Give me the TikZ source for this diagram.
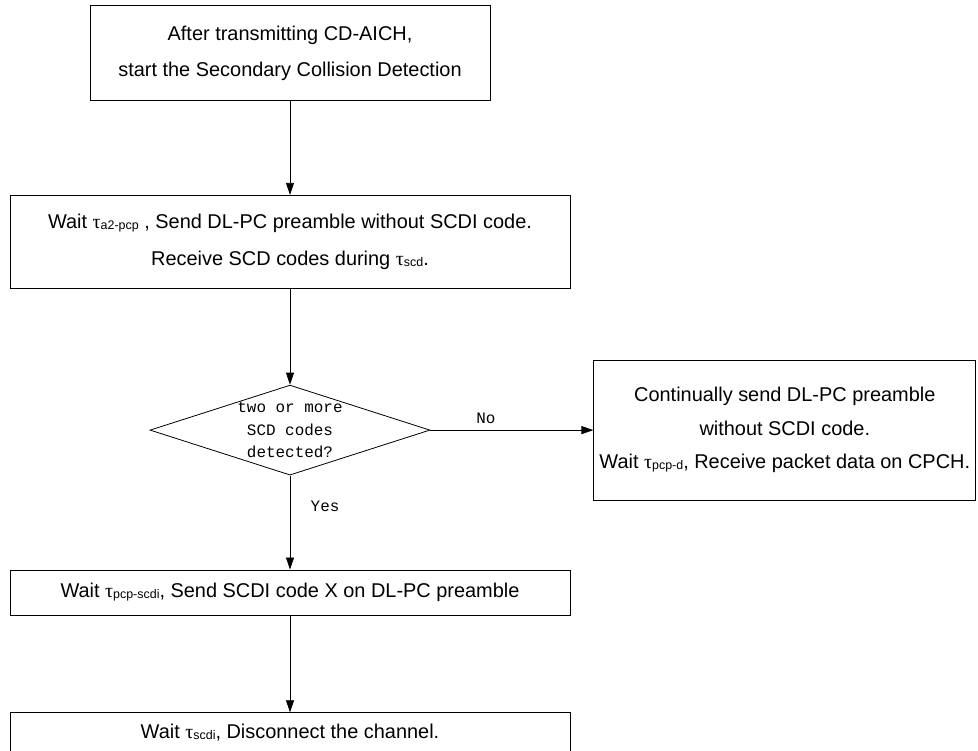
\documentclass[tikz,border=0pt]{standalone}
\usepackage{fontspec}
\setmainfont{Liberation Sans}
\setmonofont{Liberation Mono}
\newfontfamily\greekfont{Liberation Serif}
\usetikzlibrary{arrows.meta,positioning,shapes.geometric}

\newcommand{\tausub}[1]{{\greekfont τ}\raisebox{-1bp}{\fontsize{12.5}{12.5}\selectfont #1}}

\begin{document}
\begin{tikzpicture}[x=1bp, y=1bp,
  box/.style={rectangle, draw, line width=0.8bp, align=center, inner sep=0pt, font=\fontsize{20}{36}\selectfont},
  decision/.style={diamond, draw, line width=0.8bp, inner sep=0pt, minimum width=280bp, minimum height=90bp},
  flow/.style={-{Triangle[length=12bp, width=8bp]}, line width=0.8bp},
  every node/.style={font=\fontsize{20}{22}\selectfont},
]
  \useasboundingbox (0,0) rectangle (978,-751);

  \node[box, minimum width=400bp, minimum height=95bp] (start) at (290,-53) {After transmitting CD-AICH,\\start the Secondary Collision Detection};
  \node[box, minimum width=560bp, minimum height=93bp, below=94bp of start, font=\fontsize{20}{38}\selectfont] (wait) {Wait \tausub{a2-pcp} , Send DL-PC preamble without SCDI code.\\Receive SCD codes during \tausub{scd}.};
  \node[decision, below=96bp of wait] (dec) {};
  \node[font=\ttfamily\fontsize{16}{22.5}\selectfont, align=center] (dectext) at (dec.center) {two or more\\SCD codes\\detected?};
  \node[box, minimum width=382bp, minimum height=140bp, right=163bp of dec, font=\fontsize{20}{33.5}\selectfont] (cont) {Continually send DL-PC preamble\\without SCDI code.\\Wait \tausub{pcp-d}, Receive packet data on CPCH.};
  \node[box, minimum width=560bp, minimum height=45bp, below=94bp of dec] (send) {Wait \tausub{pcp-scdi}, Send SCDI code X on DL-PC preamble};
  \node[box, minimum width=560bp, minimum height=40bp, below=97bp of send] (disc) {Wait \tausub{scdi}, Disconnect the channel.};

  % Flow
  \draw[flow] (start) -- (wait);
  \draw[flow] (wait) -- (dec);
  \draw[flow] (dec) -- (cont) node[pos=0.34, above=3bp, font=\ttfamily\fontsize{16}{18}\selectfont] {No};
  \draw[flow] (dec) -- (send) node[pos=0.33, right=17bp, font=\ttfamily\fontsize{16}{18}\selectfont] {Yes};
  \draw[flow] (send) -- (disc);
\end{tikzpicture}
\end{document}
